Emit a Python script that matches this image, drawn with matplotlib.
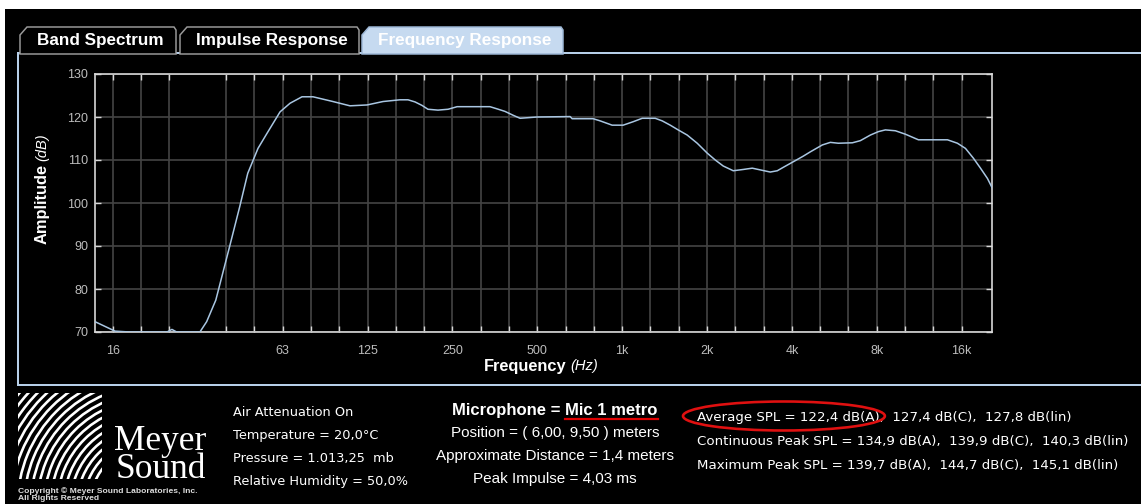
import matplotlib
matplotlib.use("Agg")
import matplotlib.pyplot as plt
from matplotlib.patches import Polygon, Ellipse, Rectangle, Arc
from matplotlib.ticker import FixedLocator, FixedFormatter, NullFormatter

# ---- measured response (Hz, dB) ----
freq_hz = [13.5, 15.9, 17.9, 24.3, 25.3, 26.3, 31.8, 33.6, 36.2, 40.5,
           44.0, 47.0, 51.1, 55.0, 61.2, 66.4, 73.2, 80.1, 94.2, 108.3,
           124.5, 141.9, 162.9, 174.0, 184.3, 195.0, 204.8, 222.2, 241.3, 259.8,
           339.7, 359.8, 384.2, 410.6, 434.5, 499.3, 654.0, 664.5, 788.9, 835.6,
           921.5, 1008, 1094, 1178, 1310, 1387, 1481, 1580, 1701, 1846,
           2003, 2139, 2283, 2478, 2689, 2894, 3089, 3352, 3550, 3729,
           4047, 4390, 4650, 5128, 5475, 5844, 6553, 6996, 7593, 8106,
           8581, 9313, 10105, 11240, 12706, 14250, 15455, 16504, 17620, 18660,
           19755, 20500]
level_db = [72.4, 70.2, 70.0, 70.0, 70.6, 70.0, 70.0, 72.4, 77.4, 89.8,
            99.1, 106.9, 112.7, 116.2, 121.2, 123.2, 124.7, 124.7, 123.6, 122.6,
            122.8, 123.6, 124.0, 124.0, 123.5, 122.7, 121.8, 121.6, 121.8, 122.4,
            122.4, 121.9, 121.3, 120.4, 119.7, 120.0, 120.1, 119.6, 119.6, 119.1,
            118.1, 118.1, 118.9, 119.7, 119.7, 119.1, 118.1, 117.0, 115.8, 113.9,
            111.6, 110.0, 108.6, 107.5, 107.8, 108.1, 107.7, 107.2, 107.5, 108.3,
            109.6, 110.9, 111.9, 113.5, 114.1, 113.9, 114.0, 114.5, 115.8, 116.6,
            117.0, 116.8, 116.0, 114.7, 114.7, 114.7, 113.9, 112.7, 110.4, 108.1,
            105.7, 103.6]

# third-octave grid (31.5 Hz line omitted)
grid_freqs = [15.625, 19.69, 24.8, 39.37, 49.6, 62.5, 78.75, 99.21, 125, 157.5,
              198.4, 250, 315, 396.9, 500, 630, 793.7, 1000, 1260, 1587,
              2000, 2520, 3175, 4000, 5040, 6350, 8000, 10079, 12699, 16000]
label_freqs = [15.625, 62.5, 125, 250, 500, 1000, 2000, 4000, 8000, 16000]
label_texts = ["16", "63", "125", "250", "500", "1k", "2k", "4k", "8k", "16k"]
db_ticks = [70, 80, 90, 100, 110, 120, 130]

tabs = ["Band Spectrum", "Impulse Response", "Frequency Response"]
brand = "Meyer\nSound"
copyright_lines = "Copyright © Meyer Sound Laboratories, Inc.\nAll Rights Reserved"
env_lines = ["Air Attenuation On", "Temperature = 20,0°C",
             "Pressure = 1.013,25  mb", "Relative Humidity = 50,0%"]
mic_name = "Mic 1 metro"
mic_lines = ["Position = ( 6,00, 9,50 ) meters",
             "Approximate Distance = 1,4 meters",
             "Peak Impulse = 4,03 ms"]
spl_lines = ["Average SPL = 122,4 dB(A),  127,4 dB(C),  127,8 dB(lin)",
             "Continuous Peak SPL = 134,9 dB(A),  139,9 dB(C),  140,3 dB(lin)",
             "Maximum Peak SPL = 139,7 dB(A),  144,7 dB(C),  145,1 dB(lin)"]
spl_highlight = "Average SPL = 122,4 dB(A),"

W, H = 1141, 504
SANS = "Liberation Sans"
WIDE = "DejaVu Sans"
fig = plt.figure(figsize=(W / 100, H / 100), dpi=100, facecolor="black")
renderer = fig.canvas.get_renderer()

# pixel-space canvas for the window chrome and info panel
cv = fig.add_axes([0, 0, 1, 1], zorder=0)
cv.set_xlim(0, W)
cv.set_ylim(H, 0)
cv.axis("off")
cv.set_facecolor("none")


def px_extent(t):
    """Bounding box of a text artist in canvas pixel units (x0, x1, ytop, ybot)."""
    bb = t.get_window_extent(renderer=renderer)
    inv = cv.transData.inverted()
    (x0, y0), (x1, y1) = inv.transform([(bb.x0, bb.y0), (bb.x1, bb.y1)])
    return x0, x1, min(y0, y1), max(y0, y1)


px = 0.72  # points per pixel at 100 dpi
cv.add_patch(Rectangle((0, 0), W, 9, color="white", lw=0))
cv.add_patch(Rectangle((0, 0), 5, H, color="white", lw=0))

# panel frame
blue = "#b7cfe9"
cv.plot([18, W], [53, 53], color=blue, lw=2 * px)
cv.plot([18, 18], [53, 385], color=blue, lw=2 * px)
cv.plot([18, W], [385, 385], color=blue, lw=2 * px)

# tabs
tab_spans = [(20, 176), (180, 359), (362, 563)]
for i, (name, (x0, x1)) in enumerate(zip(tabs, tab_spans)):
    active = i == 2
    pts = [(x0, 54), (x0, 35), (x0 + 7, 27), (x1 - 2, 27), (x1, 30), (x1, 54)]
    cv.add_patch(Polygon(pts, closed=True,
                         facecolor="#c6daf0" if active else "black",
                         edgecolor="#9db7d6" if active else "#9a9a9a",
                         lw=1.5 * px, zorder=3))
    cv.text((x0 + x1) / 2 + 2, 40.5, name, color="white", fontsize=12.3,
            fontweight="bold", family=SANS, ha="center", va="center", zorder=4)

# logo: concentric arcs
clip = Rectangle((18, 393), 84, 86, transform=cv.transData)
r = 40.0
while r < 200:
    a = Arc((150, 505), 2 * r, 2 * r, theta1=0, theta2=360,
            color="white", lw=2.6 * px)
    cv.add_patch(a)
    a.set_clip_path(clip)
    r += 6.6
word = cv.text(206, 425, brand, color="white", fontsize=25.5,
               family="Liberation Serif", ha="right", va="top",
               multialignment="right", linespacing=0.82)
cv.text(18, 487.5, copyright_lines, color="#dddddd", fontsize=6.1,
        fontweight="bold", family=SANS, ha="left", va="top", linespacing=1.0)

# environment column
for k, s in enumerate(env_lines):
    cv.text(233, 412 + 23.3 * k, s, color="white", fontsize=9.3, family=WIDE,
            ha="left", va="center")

# microphone column
head = cv.text(555, 410, "Microphone = " + mic_name, color="white", fontsize=12,
               fontweight="bold", family=SANS, ha="center", va="center")
hx0, hx1, _, _ = px_extent(head)
probe = cv.text(hx1, 410, mic_name, fontsize=12, fontweight="bold", family=SANS,
                ha="right", va="center")
tx0, tx1, _, _ = px_extent(probe)
probe.remove()
cv.plot([tx0, tx1], [419, 419], color="#e00000", lw=2.2 * px)
for k, s in enumerate(mic_lines):
    cv.text(555, 433 + 23 * k, s, color="white", fontsize=11, family=SANS,
            ha="center", va="center")

# SPL column
for k, s in enumerate(spl_lines):
    cv.text(697, 417 + 24.5 * k, s, color="white", fontsize=9.6, family=WIDE,
            ha="left", va="center")
probe = cv.text(697, 417, spl_highlight, fontsize=9.6, family=WIDE,
                ha="left", va="center")
sx0, sx1, _, _ = px_extent(probe)
probe.remove()
ex0, ex1 = sx0 - 14, sx1 + 1
cv.add_patch(Ellipse(((ex0 + ex1) / 2, 416), ex1 - ex0, 29, fill=False,
                     edgecolor="#e01010", lw=2.6 * px, zorder=5))

# ---- frequency response plot ----
ax = fig.add_axes([95 / W, 1 - 332 / H, (992 - 95) / W, (332 - 74) / H], zorder=2)
ax.set_facecolor("black")
ax.plot(freq_hz, level_db, color="#a9c6e2", lw=1.1, zorder=3)
ax.set_xscale("log")
ax.set_xlim(13.5, 20500)
ax.set_ylim(70, 130)

ax.xaxis.set_major_locator(FixedLocator(label_freqs))
ax.xaxis.set_major_formatter(FixedFormatter(label_texts))
ax.xaxis.set_minor_locator(FixedLocator(grid_freqs))
ax.xaxis.set_minor_formatter(NullFormatter())
ax.set_yticks(db_ticks)

ax.grid(True, which="both", axis="x", color="#444444", lw=1.2)
ax.grid(True, which="major", axis="y", color="#444444", lw=1.2)
ax.set_axisbelow(True)
for side in ax.spines.values():
    side.set_color("#d8d8d8")
    side.set_linewidth(1.2)
ax.tick_params(which="both", direction="in", length=4, width=1, color="#d8d8d8",
               top=True, right=True, labelsize=9, labelcolor="#bdbdbd", pad=9)
ax.tick_params(axis="y", pad=5)
for lab in ax.get_xticklabels() + ax.get_yticklabels():
    lab.set_family(SANS)

# axis titles (bold name + italic unit)
amp = cv.text(42, 244, "Amplitude", rotation=90, color="white", fontsize=11.8,
              fontweight="bold", family=SANS, ha="center", va="bottom")
_, _, atop, _ = px_extent(amp)
cv.text(42, atop - 3, "(dB)", rotation=90, color="white", fontsize=10.5,
        fontstyle="italic", family=SANS, ha="center", va="bottom")
fq = cv.text(484, 366, "Frequency", color="white", fontsize=11.8, fontweight="bold",
             family=SANS, ha="left", va="center")
_, fx1, _, _ = px_extent(fq)
cv.text(fx1 + 4, 366, "(Hz)", color="white", fontsize=10.5, fontstyle="italic",
        family=SANS, ha="left", va="center")

fig.savefig("out.png", dpi=100, facecolor="black")
